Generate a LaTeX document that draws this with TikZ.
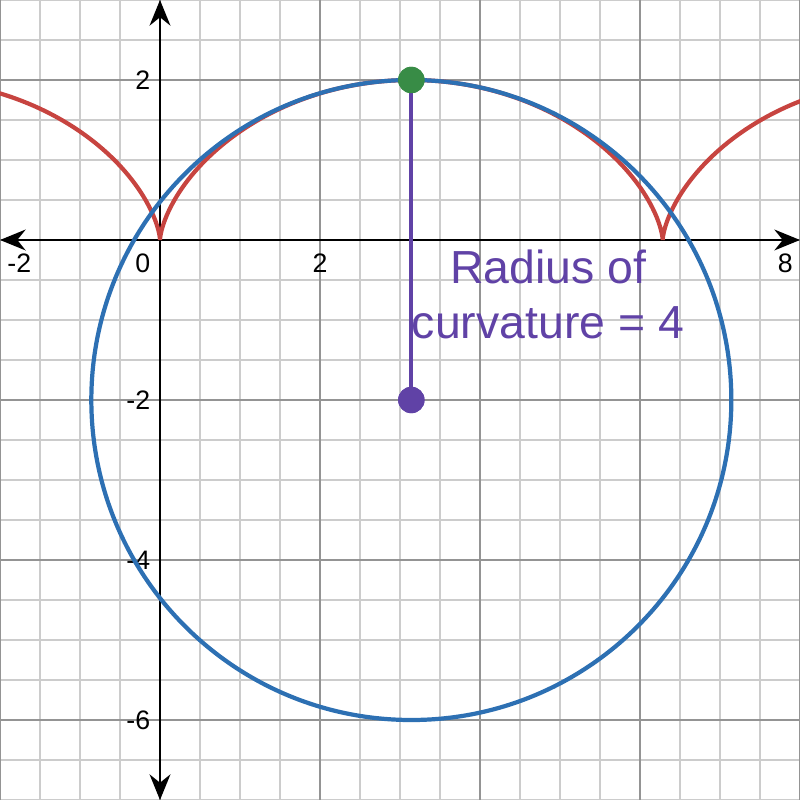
\documentclass[tikz,border=0pt]{standalone}
\usepackage{fontspec}
\setmainfont{Liberation Sans}
\usetikzlibrary{arrows.meta}
\definecolor{dred}{HTML}{C74440}
\definecolor{dblue}{HTML}{2D70B3}
\definecolor{dgreen}{HTML}{388C46}
\definecolor{dpurple}{HTML}{6042A6}
\begin{document}
\begin{tikzpicture}[>={Stealth[length=3.2mm,width=2.6mm]},
  dot/.style={circle,inner sep=0pt,minimum size=3.3mm},
  tick/.style={font=\fontsize{9.5}{10}\selectfont,inner sep=1pt}]
\useasboundingbox (-2,-7) rectangle (8,3);
\clip (-2,-7) rectangle (8,3);
% grid
\draw[black!20,line width=0.55pt] (-2,-7) grid[step=0.5] (8,3);
\draw[black!42,line width=0.55pt] (-2,-8) grid[step=2] (8,3);
% axes
\coordinate (xl) at (-2,0);
\coordinate (xr) at (8,0);
\coordinate (yt) at (0,3);
\coordinate (yb) at (0,-7);
\draw[<->,line width=0.85pt] (xl) -- (xr);
\draw[<->,line width=0.85pt] (yb) -- (yt);
% tick labels
\node[tick,anchor=north west] (xm2) at (-1.95,-0.13) {-2};
\node[tick,anchor=north east] (x0) at (-0.08,-0.13) {0};
\node[tick,anchor=north] (x2) at (2,-0.13) {2};
\node[tick,anchor=north east] (x8) at (7.95,-0.13) {8};
\node[tick,anchor=east] (y2) at (-0.08,2) {2};
\node[tick,anchor=east] (ym2) at (-0.08,-2) {-2};
\node[tick,anchor=east] (ym4) at (-0.08,-4) {-4};
\node[tick,anchor=east] (ym6) at (-0.08,-6) {-6};
% cycloid and circle of curvature
\draw[dred,line width=1.5pt,line join=round]
  plot[domain=-2.6:0,samples=80] ({\x-sin(\x r)},{1-cos(\x r)})
  plot[domain=0:2*pi,samples=200] ({\x-sin(\x r)},{1-cos(\x r)})
  plot[domain=2*pi:8.7,samples=80] ({\x-sin(\x r)},{1-cos(\x r)});
\draw[dblue,line width=1.5pt] ({pi},-2) circle (4);
% radius
\node[dot,fill=dgreen] (top) at ({pi},2) {};
\node[dot,fill=dpurple] (ctr) at ({pi},-2) {};
\draw[dpurple,line width=1.5pt] (top.center) -- (ctr.center);
\node[dot,fill=dgreen] at (top) {};
\node[dot,fill=dpurple] at (ctr) {};
\node[text=dpurple,align=center,font=\fontsize{16.5}{19.5}\selectfont] (lbl) at (4.85,-0.68) {Radius of\\curvature = 4};
\end{tikzpicture}
\end{document}
